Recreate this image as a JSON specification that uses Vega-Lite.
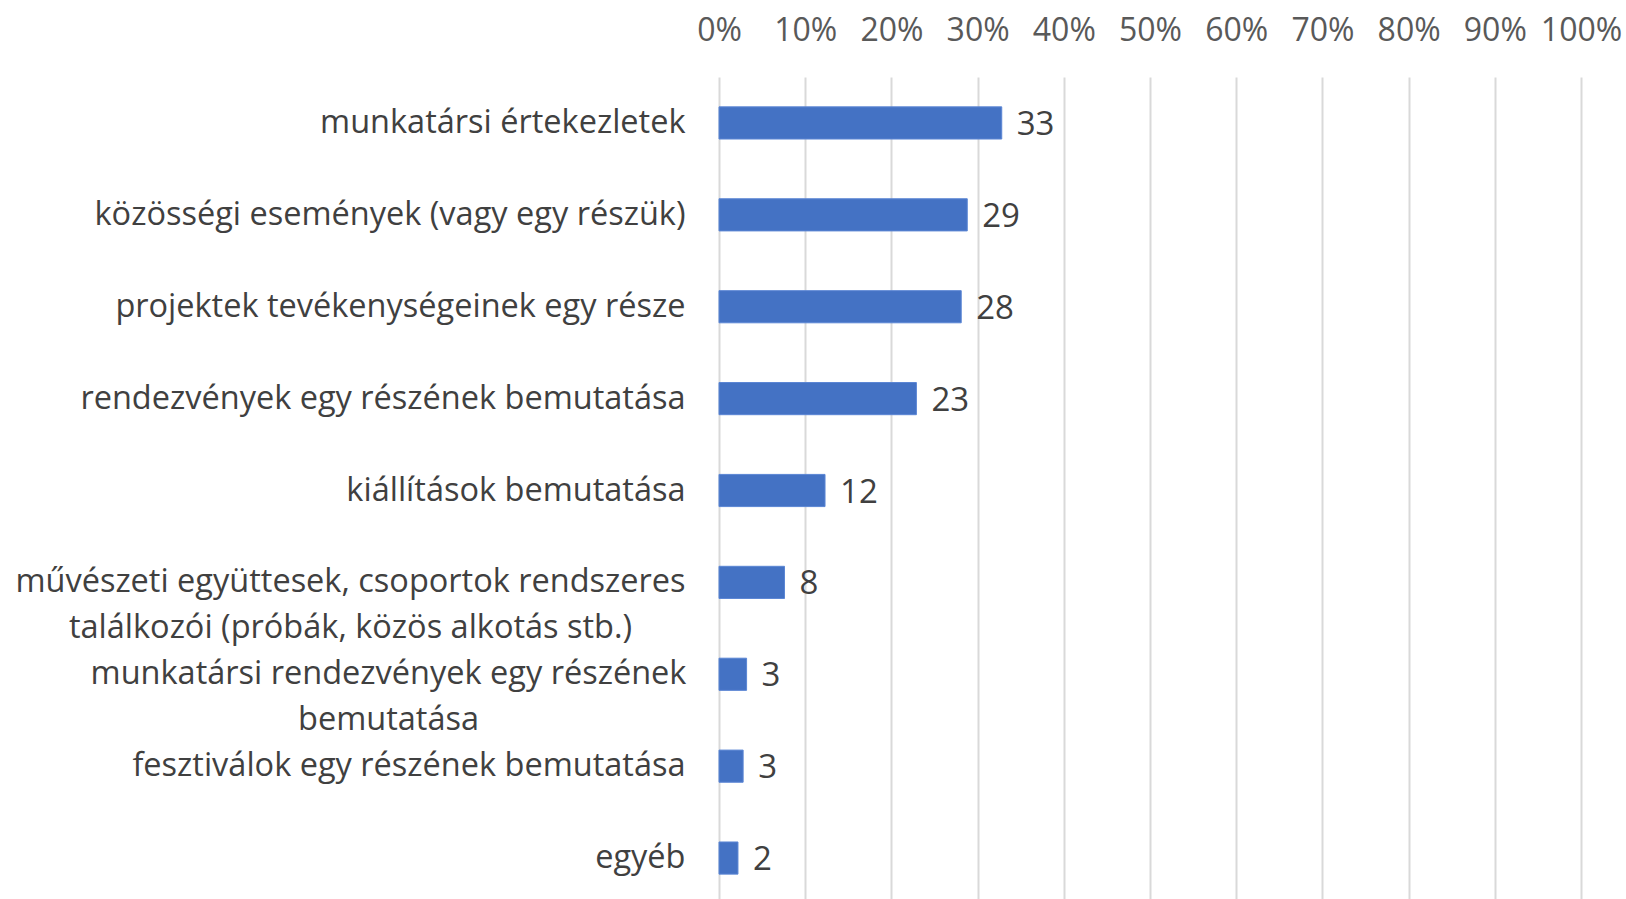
{
  "$schema": "https://vega.github.io/schema/vega-lite/v6.json",
  "autosize": {"type": "none"},
  "padding": {"left": 719, "top": 77, "right": 45, "bottom": 0},
  "width": 862,
  "height": 827,
  "background": "white",
  "config": {"view": {"stroke": null}, "font": "Open Sans"},
  "data": {
    "values": [
      {"label": "munkatársi értekezletek", "value": 32.8},
      {"label": "közösségi események (vagy egy részük)", "value": 28.8},
      {"label": "projektek tevékenységeinek egy része", "value": 28.1},
      {"label": "rendezvények egy részének bemutatása", "value": 22.9},
      {"label": "kiállítások bemutatása", "value": 12.3},
      {"label": "művészeti együttesek, csoportok rendszeres|találkozói (próbák, közös alkotás stb.)", "value": 7.6},
      {"label": "munkatársi rendezvények egy részének|bemutatása", "value": 3.2},
      {"label": "fesztiválok egy részének bemutatása", "value": 2.8},
      {"label": "egyéb", "value": 2.2}
    ]
  },
  "encoding": {
    "y": {
      "field": "label",
      "type": "nominal",
      "sort": null,
      "scale": {"paddingInner": 0.65, "paddingOuter": 0.325},
      "axis": {
        "title": null,
        "domain": false,
        "ticks": false,
        "labelFontSize": 32.5,
        "labelColor": "#404040",
        "labelLimit": 800,
        "labelPadding": {"condition": [
          {"test": "indexof(datum.value, 'művészeti') == 0", "value": 369},
          {"test": "indexof(datum.value, 'munkatársi rendezvények') == 0", "value": 331}
        ], "value": 34},
        "labelAlign": {"condition": {"test": "indexof(datum.value, '|') >= 0", "value": "center"}, "value": "right"},
        "labelLineHeight": 45.5,
        "labelExpr": "split(datum.value, '|')"
      }
    },
    "x": {
      "field": "value",
      "type": "quantitative",
      "scale": {"domain": [0, 100]},
      "axis": {
        "orient": "top",
        "title": null,
        "domain": false,
        "ticks": false,
        "values": [0, 10, 20, 30, 40, 50, 60, 70, 80, 90, 100],
        "labelExpr": "datum.value + '%'",
        "labelOverlap": false,
        "labelFlush": false,
        "labelFontSize": 32,
        "labelColor": "#595959",
        "labelPadding": 30,
        "grid": true,
        "gridColor": "#d9d9d9",
        "gridWidth": 2
      }
    }
  },
  "layer": [
    {"mark": {"type": "bar", "color": "#4472C4", "stroke": "#5b86d4", "strokeWidth": 1}},
    {
      "mark": {"type": "text", "align": "left", "baseline": "middle", "dx": 15, "dy": 2, "fontSize": 33, "color": "#404040"},
      "encoding": {"text": {"field": "value", "type": "quantitative", "format": ".0f"}}
    }
  ]
}
